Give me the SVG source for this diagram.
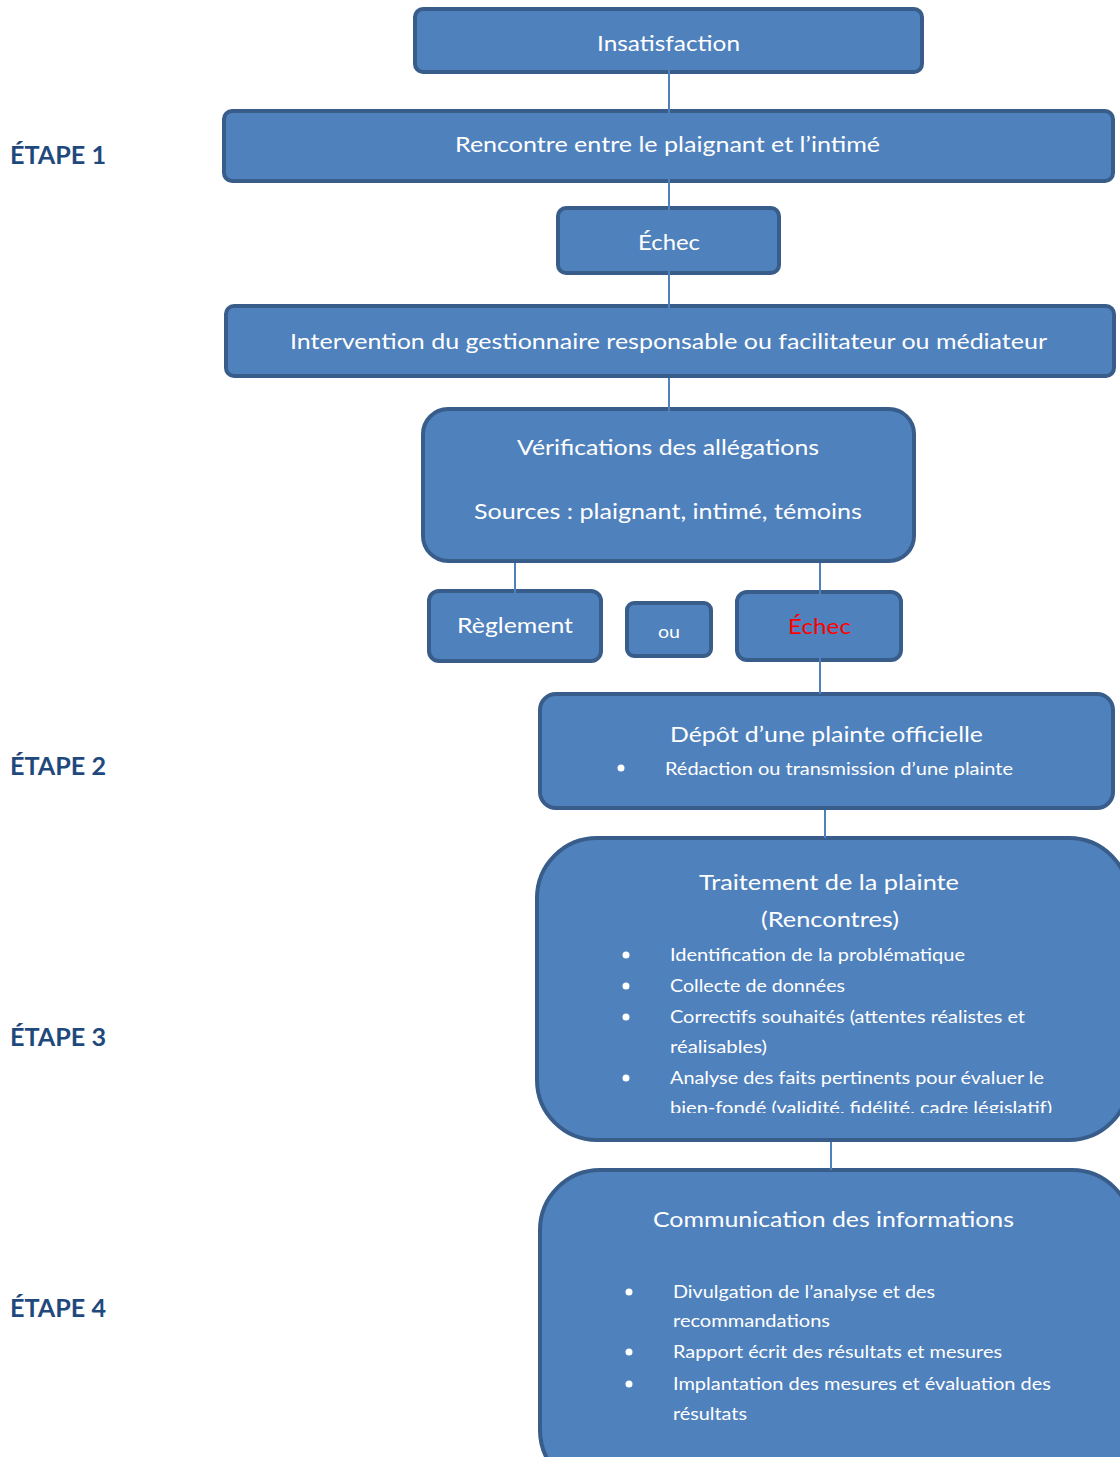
<svg xmlns="http://www.w3.org/2000/svg" width="1120" height="1457" viewBox="0 0 1120 1457">
<style>
.box{fill:#4f81bd;stroke:#385d8a;stroke-width:4}
.t{font-family:Lato,"Open Sans","Liberation Sans",sans-serif;fill:#ffffff;font-size:22px}
.c{text-anchor:middle}
.s{font-size:18px}
.red{fill:#ff0000}
.step{font-family:Lato,"Liberation Sans",sans-serif;font-weight:bold;font-size:24px;fill:#1f497d}
.conn{stroke:#4f81bd;stroke-width:2;fill:none}
.dot{fill:#ffffff}
</style>
<defs>
<clipPath id="clipT"><rect x="540" y="840" width="580" height="273"/></clipPath>
</defs>
<g id="labels">
<text class="step" x="10" y="164" textLength="96" lengthAdjust="spacingAndGlyphs">ÉTAPE 1</text>
<text class="step" x="10" y="775" textLength="96" lengthAdjust="spacingAndGlyphs">ÉTAPE 2</text>
<text class="step" x="10" y="1046" textLength="96" lengthAdjust="spacingAndGlyphs">ÉTAPE 3</text>
<text class="step" x="10" y="1317" textLength="96" lengthAdjust="spacingAndGlyphs">ÉTAPE 4</text>
</g>
<g id="n-insatisfaction">
<rect class="box" x="415" y="9" width="507" height="63" rx="8"/>
<text class="t c" x="668.5" y="51" textLength="143" lengthAdjust="spacingAndGlyphs">Insatisfaction</text>
</g>
<g id="n-rencontre">
<rect class="box" x="224" y="111" width="889" height="70" rx="8"/>
<text class="t c" x="667.5" y="152" textLength="425" lengthAdjust="spacingAndGlyphs">Rencontre entre le plaignant et l’intimé</text>
</g>
<g id="n-echec1">
<rect class="box" x="558" y="208" width="221" height="65" rx="8"/>
<text class="t c" x="669" y="250" textLength="62" lengthAdjust="spacingAndGlyphs">Échec</text>
</g>
<g id="n-intervention">
<rect class="box" x="226" y="306" width="888" height="70" rx="8"/>
<text class="t c" x="668.5" y="349" textLength="757" lengthAdjust="spacingAndGlyphs">Intervention du gestionnaire responsable ou facilitateur ou médiateur</text>
</g>
<g id="n-verifications">
<rect class="box" x="423" y="409" width="491" height="152" rx="25"/>
<text class="t c" x="668" y="455" textLength="302" lengthAdjust="spacingAndGlyphs">Vérifications des allégations</text>
<text class="t c" x="668" y="519" textLength="388" lengthAdjust="spacingAndGlyphs">Sources : plaignant, intimé, témoins</text>
</g>
<g id="n-reglement">
<rect class="box" x="429" y="591" width="172" height="70" rx="10"/>
<text class="t c" x="515" y="633" textLength="116" lengthAdjust="spacingAndGlyphs">Règlement</text>
</g>
<g id="n-ou">
<rect class="box" x="627" y="603" width="84" height="53" rx="7"/>
<text class="t c" x="669" y="638" style="font-size:17px" textLength="22" lengthAdjust="spacingAndGlyphs">ou</text>
</g>
<g id="n-echec2">
<rect class="box" x="737" y="592" width="164" height="68" rx="10"/>
<text class="t c red" x="819.5" y="634" textLength="63" lengthAdjust="spacingAndGlyphs">Échec</text>
</g>
<g id="n-depot">
<rect class="box" x="540" y="694" width="573" height="114" rx="16"/>
<text class="t c" x="826.5" y="742" textLength="313" lengthAdjust="spacingAndGlyphs">Dépôt d’une plainte officielle</text>
<circle class="dot" cx="621" cy="768" r="3.5"/>
<text class="t s" x="665" y="775" textLength="348" lengthAdjust="spacingAndGlyphs">Rédaction ou transmission d’une plainte</text>
</g>
<g id="n-traitement">
<rect class="box" x="537" y="838" width="592" height="302" rx="60"/>
<text class="t c" x="829" y="890" textLength="260" lengthAdjust="spacingAndGlyphs">Traitement de la plainte</text>
<text class="t c" x="830" y="927" textLength="138" lengthAdjust="spacingAndGlyphs">(Rencontres)</text>
<circle class="dot" cx="626" cy="955" r="3.5"/>
<text class="t s" x="670" y="961" textLength="295" lengthAdjust="spacingAndGlyphs">Identification de la problématique</text>
<circle class="dot" cx="626" cy="986" r="3.5"/>
<text class="t s" x="670" y="992" textLength="175" lengthAdjust="spacingAndGlyphs">Collecte de données</text>
<circle class="dot" cx="626" cy="1017" r="3.5"/>
<text class="t s" x="670" y="1023" textLength="355" lengthAdjust="spacingAndGlyphs">Correctifs souhaités (attentes réalistes et</text>
<text class="t s" x="670" y="1053" textLength="97" lengthAdjust="spacingAndGlyphs">réalisables)</text>
<circle class="dot" cx="626" cy="1078" r="3.5"/>
<text class="t s" x="670" y="1084" textLength="374" lengthAdjust="spacingAndGlyphs">Analyse des faits pertinents pour évaluer le</text>
<text class="t s" x="670" y="1114" clip-path="url(#clipT)" textLength="382" lengthAdjust="spacingAndGlyphs">bien-fondé (validité, fidélité, cadre législatif)</text>
</g>
<g id="n-communication">
<rect class="box" x="540" y="1170" width="592" height="320" rx="60"/>
<text class="t c" x="833.5" y="1227" textLength="361" lengthAdjust="spacingAndGlyphs">Communication des informations</text>
<circle class="dot" cx="629" cy="1292" r="3.5"/>
<text class="t s" x="673" y="1298" textLength="262" lengthAdjust="spacingAndGlyphs">Divulgation de l’analyse et des</text>
<text class="t s" x="673" y="1327" textLength="157" lengthAdjust="spacingAndGlyphs">recommandations</text>
<circle class="dot" cx="629" cy="1352" r="3.5"/>
<text class="t s" x="673" y="1358" textLength="329" lengthAdjust="spacingAndGlyphs">Rapport écrit des résultats et mesures</text>
<circle class="dot" cx="629" cy="1384" r="3.5"/>
<text class="t s" x="673" y="1390" textLength="378" lengthAdjust="spacingAndGlyphs">Implantation des mesures et évaluation des</text>
<text class="t s" x="673" y="1420" textLength="74" lengthAdjust="spacingAndGlyphs">résultats</text>
</g>
<g id="connectors">
<line class="conn" x1="669" y1="69" x2="669" y2="113"/>
<line class="conn" x1="669" y1="159" x2="669" y2="210"/>
<line class="conn" x1="669" y1="271" x2="669" y2="308"/>
<line class="conn" x1="669" y1="378" x2="669" y2="428"/>
<line class="conn" x1="515" y1="563" x2="515" y2="610"/>
<line class="conn" x1="820" y1="563" x2="820" y2="607"/>
<line class="conn" x1="820" y1="648" x2="820" y2="694"/>
<line class="conn" x1="825" y1="810" x2="825" y2="838"/>
<line class="conn" x1="831" y1="1142" x2="831" y2="1170"/>
</g>
</svg>
